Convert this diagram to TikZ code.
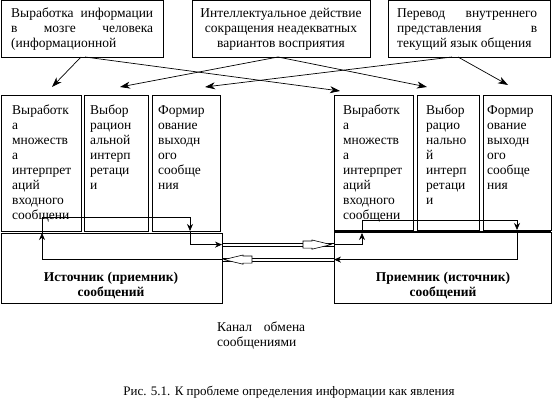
\documentclass[tikz,border=0pt]{standalone}
\usepackage{fontspec}
\setmainfont{Liberation Serif}
\usetikzlibrary{arrows.meta}
\newcommand{\jl}[2]{\makebox[#1][s]{#2}}
\begin{document}
\begin{tikzpicture}[x=1pt,y=-1pt,
  box/.style={draw, line width=0.8pt, inner sep=0pt, outer sep=0pt, anchor=north west},
  txt/.style={inner sep=0pt, anchor=north west, align=left, font=\fontsize{13.5}{15}\selectfont,
    execute at begin node={\rule{0pt}{10pt}}},
  ctxt/.style={txt, anchor=north, align=center},
  btxt/.style={ctxt, font=\fontsize{13.5}{15}\selectfont\bfseries},
  con/.style={line width=0.7pt},
  tip/.style={con, -{Stealth[length=10pt,width=7pt,inset=3pt]}},
  small/.style={con, -{Stealth[length=7pt,width=6pt]}},
  rail/.style={line width=0.6pt},
  hollow/.style={draw, fill=white, line width=0.6pt}
]
\useasboundingbox (0,0) rectangle (552,403);

% top boxes
\node[box, minimum width=162pt, minimum height=56.5pt] (t1) at (1,0.5) {};
\node[box, minimum width=178pt, minimum height=56.5pt] (t2) at (192,0.5) {};
\node[box, minimum width=162pt, minimum height=56.5pt] (t3) at (388,0.5) {};

\node[txt] (t1x) at (11,8) {\jl{142pt}{Выработка информации}\\\jl{142pt}{в мозге человека}\\(информационной};
\node[ctxt] (t2x) at (281,8) {Интеллектуальное действие\\сокращения неадекватных\\вариантов восприятия};
\node[txt] (t3x) at (397,8) {\jl{140pt}{Перевод внутреннего}\\\jl{140pt}{представления в}\\текущий язык общения};

% second row boxes
\node[box, minimum width=80pt, minimum height=136pt] (l1) at (1,95) {};
\node[box, minimum width=64pt, minimum height=136pt] (l2) at (84,95) {};
\node[box, minimum width=68pt, minimum height=136pt] (l3) at (152,95) {};
\node[box, minimum width=221pt, minimum height=70pt] (src) at (1,233) {};

\node[box, minimum width=79pt, minimum height=135pt] (r1) at (334,95) {};
\node[box, minimum width=62pt, minimum height=135pt] (r2) at (417,95) {};
\node[box, minimum width=68.2pt, minimum height=135pt] (r3) at (483,95) {};
\node[box, minimum width=217.2pt, minimum height=71pt] (rcv) at (334,232) {};
\draw[line width=2pt] (rcv.north west) -- (rcv.north east);

\node[txt] (l1x) at (12,105) {Выработк\\а\\множеств\\а\\интерпрет\\аций\\входного\\сообщени};
\node[txt] (l2x) at (90,105) {Выбор\\рацион\\альной\\интерп\\ретаци\\и};
\node[txt] (l3x) at (158,105) {Формир\\ование\\выходн\\ого\\сообще\\ния};

\node[txt] (r1x) at (343,105) {Выработк\\а\\множеств\\а\\интерпрет\\аций\\входного\\сообщени};
\node[txt] (r2x) at (426,105) {Выбор\\рацио\\нально\\й\\интерп\\ретаци\\и};
\node[txt] (r3x) at (487,105) {Формир\\ование\\выходн\\ого\\сообще\\ния};

\node[btxt] (srcx) at (111,272) {Источник (приемник)\\сообщений};
\node[btxt] (rcvx) at (443,272) {Приемник (источник)\\сообщений};

\node[txt] (chx) at (217,322) {\jl{88pt}{Канал обмена}\\сообщениями};
\node[inner sep=0pt, anchor=base, font=\fontsize{13}{15}\selectfont] (cap) at (289,396)
  {Рис. 5.1. К проблеме определения информации как явления};

% top arrows
\coordinate (e1) at (52,87);
\coordinate (e2) at (120,87);
\coordinate (e3) at (205,87);
\coordinate (e4) at (340,91);
\coordinate (e5) at (427,87);
\coordinate (e6) at (508,85);
\draw[tip] ([xshift=-1pt]t1.south) -- (e1);
\draw[tip] ([xshift=3pt]t1.south) -- (e4);
\draw[tip] ([xshift=-3pt]t2.south) -- (e2);
\draw[tip] ([xshift=-3pt]t2.south) -- (e5);
\draw[tip] ([xshift=-17pt]t3.south) -- (e3);
\draw[tip] ([xshift=-11pt]t3.south) -- (e6);

% channel
\coordinate (cu1) at (222,244.6);
\coordinate (cu2) at (334,244.6);
\coordinate (cl1) at (222,259.6);
\coordinate (cl2) at (334,259.6);
\draw[rail] ([yshift=1.6pt]cu1) -- ([yshift=1.6pt]cu2);
\draw[rail] ([yshift=-1.6pt]cu1) -- ([yshift=-1.6pt]cu2);
\draw[rail] ([yshift=1.6pt]cl1) -- ([yshift=1.6pt]cl2);
\draw[rail] ([yshift=-1.6pt]cl1) -- ([yshift=-1.6pt]cl2);
\draw[hollow] (303,241) -- (312,241) -- (312,240) -- (331,244.6) -- (312,249.2) -- (312,248.2) -- (303,248.2) -- cycle;
\draw[hollow] (252,256) -- (243,256) -- (243,255) -- (224,259.6) -- (243,264.2) -- (243,263.2) -- (252,263.2) -- cycle;

% left wiring
\coordinate (la) at (42,233);
\coordinate (lb) at (190,217);
\coordinate (lc) at (190,231);
\draw[small] (la) |- (lb) -- (lc);
\draw[small] (lc) |- (cu1);
\draw[small] (cl1) -| (la);

% right wiring
\coordinate (ra) at (362,233);
\coordinate (rb) at (517,220);
\coordinate (rc) at (517,230);
\draw[small] (cu2) -| (ra);
\draw[small] (ra) |- (rb) -- (rc);
\draw[small] (rc) |- (cl2);
\end{tikzpicture}
\end{document}
